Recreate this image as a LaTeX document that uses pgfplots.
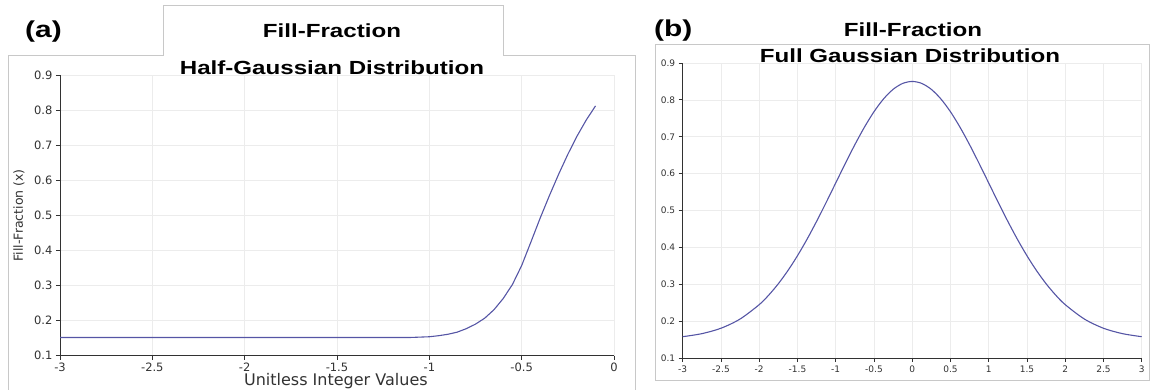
\documentclass[border=0pt]{standalone}
\usepackage{pgfplots}
\pgfplotsset{compat=1.18}
\usepackage{fontspec}
\setmainfont{Liberation Sans}
\newfontfamily\dejavu{DejaVu Sans}
\usepackage{graphicx}
\definecolor{curve}{RGB}{85,85,165}
\definecolor{framec}{RGB}{200,200,200}
\definecolor{axc}{RGB}{50,50,50}
\definecolor{gridc}{RGB}{236,236,236}
\pgfplotsset{
  myaxis/.style={
    scale only axis, anchor=south west,
    axis x line=bottom, axis y line=left,
    axis line style={-, draw=axc, line width=1pt},
    tick align=outside, major tick length=4pt,
    tick style={axc, line width=0.8pt},
    xmajorgrids, ymajorgrids,
    major grid style={gridc, line width=0.6pt},
    ticklabel style={text=axc},
    ymin=0.1, ymax=0.9,
    ytick={0.1,0.2,0.3,0.4,0.5,0.6,0.7,0.8,0.9},
    yticklabels={0.1,0.2,0.3,0.4,0.5,0.6,0.7,0.8,0.9},
    clip=false,
  }
}
\begin{document}
\begin{tikzpicture}[x=1pt,y=1pt]
% frames
\draw[framec, line width=1pt] (8,-2) -- (8,333) -- (163,333) -- (163,383) -- (503,383) -- (503,333) -- (635,333) -- (635,-2);
\draw[framec, line width=1pt] (655,9) rectangle (1149,344);

% (a) Half-Gaussian
\begin{axis}[myaxis, at={(60pt,33.3pt)}, width=554pt, height=280.7pt,
  xmin=-3, xmax=0,
  xtick={-3,-2.5,-2,-1.5,-1,-0.5,0},
  xticklabels={-3,-2.5,-2,-1.5,-1,-0.5,0},
  ticklabel style={font=\dejavu\fontsize{11.5}{12}\selectfont},
  xlabel={Unitless Integer Values},
  xlabel style={at={(axis description cs:0.498,-0.1044)}, anchor=base, font=\dejavu\fontsize{16}{16}\selectfont, text=axc},
  ylabel={Fill-Fraction (x)},
  ylabel style={at={(axis description cs:-0.0740,0.5)}, anchor=center, font=\dejavu\fontsize{12.5}{13}\selectfont, text=axc},
]
\addplot[curve, line width=1.1pt, line join=round] coordinates {
(-3,0.152) (-1.1,0.152) (-1.0,0.154) (-0.95,0.157) (-0.9,0.161) (-0.85,0.167)
(-0.8,0.177) (-0.75,0.190) (-0.7,0.207) (-0.65,0.231) (-0.6,0.263) (-0.55,0.303)
(-0.5,0.357) (-0.45,0.424) (-0.4,0.492) (-0.35,0.556) (-0.3,0.617) (-0.25,0.674)
(-0.2,0.726) (-0.15,0.772) (-0.1,0.812)
};
\end{axis}

% (b) Full Gaussian
\begin{axis}[myaxis, at={(682.7pt,31pt)}, width=459pt, height=295pt,
  xmin=-3, xmax=3,
  xtick={-3,-2.5,-2,-1.5,-1,-0.5,0,0.5,1,1.5,2,2.5,3},
  xticklabels={-3,-2.5,-2,-1.5,-1,-0.5,0,0.5,1,1.5,2,2.5,3},
  ticklabel style={font=\dejavu\fontsize{9}{10}\selectfont},
]
\addplot[curve, line width=1.1pt, smooth, tension=0.5] coordinates {
(-3,0.1578) (-2.75,0.1660) (-2.5,0.1807) (-2.25,0.2057) (-2,0.2447)
(-1.875,0.2707) (-1.75,0.3014) (-1.625,0.3370) (-1.5,0.3773) (-1.375,0.4220)
(-1.25,0.4705) (-1.125,0.5218) (-1,0.5746) (-0.875,0.6273) (-0.75,0.6784)
(-0.625,0.7258) (-0.5,0.7678) (-0.375,0.8025) (-0.25,0.8285) (-0.125,0.8446)
(0,0.85)
(0.125,0.8446) (0.25,0.8285) (0.375,0.8025) (0.5,0.7678) (0.625,0.7258)
(0.75,0.6784) (0.875,0.6273) (1,0.5746) (1.125,0.5218) (1.25,0.4705)
(1.375,0.4220) (1.5,0.3773) (1.625,0.3370) (1.75,0.3014) (1.875,0.2707)
(2,0.2447) (2.25,0.2057) (2.5,0.1807) (2.75,0.1660) (3,0.1578)
};
\end{axis}

% titles
\node[anchor=base west, inner sep=0] at (25,351) {\fontsize{23}{23}\selectfont\bfseries\scalebox{1.3}[1]{(a)}};
\node[anchor=base, inner sep=0] at (332,351) {\fontsize{19}{19}\selectfont\bfseries\scalebox{1.27}[1]{Fill-Fraction}};
\node[anchor=base, inner sep=0] at (332,314) {\fontsize{19}{19}\selectfont\bfseries\scalebox{1.27}[1]{Half-Gaussian Distribution}};
\node[anchor=base west, inner sep=0] at (654,352) {\fontsize{23}{23}\selectfont\bfseries\scalebox{1.3}[1]{(b)}};
\node[anchor=base, inner sep=0] at (913,352) {\fontsize{19}{19}\selectfont\bfseries\scalebox{1.27}[1]{Fill-Fraction}};
\node[anchor=base, inner sep=0] at (910,326) {\fontsize{19}{19}\selectfont\bfseries\scalebox{1.27}[1]{Full Gaussian Distribution}};
\pgfresetboundingbox
\path[use as bounding box] (0,0) rectangle (1151,389);
\end{tikzpicture}
\end{document}
